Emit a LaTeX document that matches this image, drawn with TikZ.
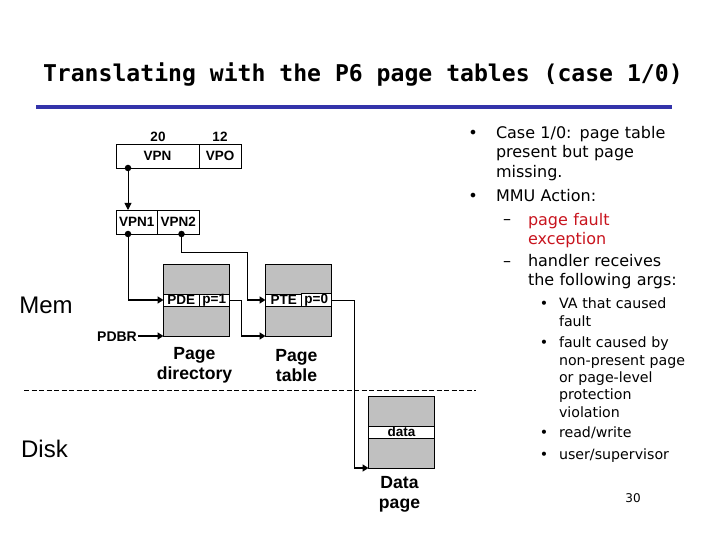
\documentclass[tikz,border=0pt]{standalone}
\usepackage{fontspec}
\setmainfont{DejaVu Sans}
\newfontfamily\diagfont{Liberation Sans}
\newfontfamily\titlefont{DejaVu Sans Mono}
\usetikzlibrary{arrows.meta}
\definecolor{boxgray}{RGB}{192,192,192}
\definecolor{rule}{RGB}{51,51,170}
\definecolor{faultred}{RGB}{200,20,30}
\tikzset{
  x=1pt,y=-1pt,
  every node/.append style={outer sep=0pt},
  cell/.style={draw=black,line width=0.9pt,fill=white,minimum height=24pt,inner sep=0pt,font=\diagfont\bfseries\fontsize{13.5}{13.5}\selectfont},
  page/.style={draw=black,line width=0.9pt,fill=boxgray,minimum width=66pt,minimum height=72pt,inner sep=0pt,anchor=north west},
  band/.style={draw=black,line width=0.9pt,fill=white,minimum height=12pt,inner sep=0pt,font=\diagfont\bfseries\fontsize{13.5}{13.5}\selectfont},
  dot/.style={circle,fill=black,inner sep=0pt,minimum size=6.5pt},
  wire/.style={draw=black,line width=0.9pt},
  link/.style={draw=black,line width=0.9pt,-{Triangle[length=7pt,width=7pt]}},
  lead/.style={draw=black,line width=1.7pt,-{Triangle[length=6pt,width=7pt]}},
  lbl/.style={font=\diagfont\bfseries\fontsize{17.6}{20}\selectfont,align=center,inner sep=0pt},
  small/.style={font=\diagfont\bfseries\fontsize{13.5}{14}\selectfont,inner sep=0pt},
  side/.style={font=\diagfont\fontsize{24}{26}\selectfont,inner sep=0pt},
  one/.style={anchor=north west,align=left,inner sep=0pt,text width=185pt,font=\fontsize{16}{19.6}\selectfont},
  three/.style={anchor=north west,align=left,inner sep=0pt,text width=150pt,font=\fontsize{14.2}{17.4}\selectfont},
  bulA/.style={anchor=base,font=\fontsize{16}{19.6}\selectfont,inner sep=0pt},
  bulB/.style={anchor=base,font=\fontsize{14.2}{17}\selectfont,inner sep=0pt},
}
\begin{document}
\begin{tikzpicture}
\useasboundingbox (0,0) rectangle (720,540);
\node[anchor=base west,inner sep=0pt,font=\titlefont\bfseries\fontsize{23.1}{26}\selectfont] (title) at (43,82) {Translating with the P6 page tables (case 1/0)};
\coordinate (ruleL) at (36,107); \coordinate (ruleR) at (672,107);
\draw[rule,line width=3.5pt] (ruleL) -- (ruleR);

% address boxes
\node[cell,minimum width=83pt] (vpn) at (157.5,156) {VPN};
\node[cell,minimum width=42.5pt] (vpo) at (220.2,156) {VPO};
\node[small] (n20) at (158,137) {20};
\node[small] (n12) at (220,137) {12};
\node[cell,minimum width=41.5pt] (vpna) at (136.7,222) {VPN1};
\node[cell,minimum width=41.5pt] (vpnb) at (178.2,222) {VPN2};
\node[dot] (d0) at (128,168) {};
\node[dot] (d1) at (128,234) {};
\node[dot] (d2) at (181.5,234) {};
\draw[link] (d0.center) -- (d0.center |- vpna.north);

% pages
\node[page] (pd) at (163.5,264) {};
\node[page] (pt) at (265.5,264) {};
\node[page] (dp) at (368.5,396) {};
\node[band,minimum width=35.5pt] (pde) at (181.25,300) {PDE};
\node[band,minimum width=30.5pt] (p1) at (214.25,300) {p=1};
\node[band,minimum width=36.5pt] (pte) at (283.75,300) {PTE};
\node[band,minimum width=29.5pt] (p0) at (316.25,300) {p=0};
\node[band,minimum width=66pt] (dat) at (401.5,432) {data};

\node[small,font=\diagfont\bfseries\fontsize{14}{14}\selectfont] (pdbr) at (117,337) {PDBR};
\node[lbl] (pdl) at (194.5,365) {Page\\directory};
\node[lbl] (ptl) at (296.5,365.5) {Page\\table};
\node[lbl] (dpl) at (399.5,494) {Data\\page};
\node[side] (mem) at (46,305) {Mem};
\node[side] (disk) at (44.5,449) {Disk};

% connectors
\coordinate (c1) at (128,300);
\coordinate (c2a) at (181.5,252); \coordinate (c2b) at (247,252); \coordinate (c2c) at (247,300);
\coordinate (c3a) at (241,300); \coordinate (c3b) at (241,336);
\coordinate (c4a) at (354,300); \coordinate (c4b) at (354,468);
\draw[wire] (d1.center) -- (c1);
\draw[lead] (c1) -- (pde.west);
\draw[wire] (d2.center) -- (c2a) -- (c2b) -- (c2c);
\draw[lead] (c2c) -- (pte.west);
\draw[wire] (p1.east) -- (c3a) -- (c3b);
\draw[lead] (c3b) -- (pt.south west);
\draw[wire] (p0.east) -- (c4a) -- (c4b);
\draw[lead] (c4b) -- (dp.south west);
\draw[lead] (pdbr.east) ++(1,-1) -- (pd.south west);

% divider
\coordinate (divL) at (24,390); \coordinate (divR) at (476,390);
\draw[black,line width=0.7pt,dash pattern=on 5pt off 2.5pt] (divL) -- (divR);

% text column
\node[bulA] (b1) at (473,138.5) {•};
\node[one] (t1) at (496,126) {Case 1/0: page table\\present but page\\missing.};
\node[bulA] (b2) at (473,201.5) {•};
\node[one] (t2) at (496,189) {MMU Action:};
\node[bulA] (b3) at (507,225) {–};
\node[one,text=faultred] (t3) at (528,213) {page fault\\exception};
\node[bulA] (b4) at (507,266) {–};
\node[one] (t4) at (528,254) {handler receives\\the following args:};
\node[bulB] (b5) at (544,308) {•};
\node[three] (t5) at (559,298) {VA that caused\\fault};
\node[bulB] (b6) at (544,347) {•};
\node[three] (t6) at (559,337) {fault caused by\\non-present page\\or page-level\\protection\\violation};
\node[bulB] (b7) at (544,437) {•};
\node[three] (t7) at (559,427) {read/write};
\node[bulB] (b8) at (544,459) {•};
\node[three] (t8) at (559,449) {user/supervisor};
\node[font=\fontsize{12}{12}\selectfont,inner sep=0pt] (num) at (633,498) {30};
\end{tikzpicture}
\end{document}
